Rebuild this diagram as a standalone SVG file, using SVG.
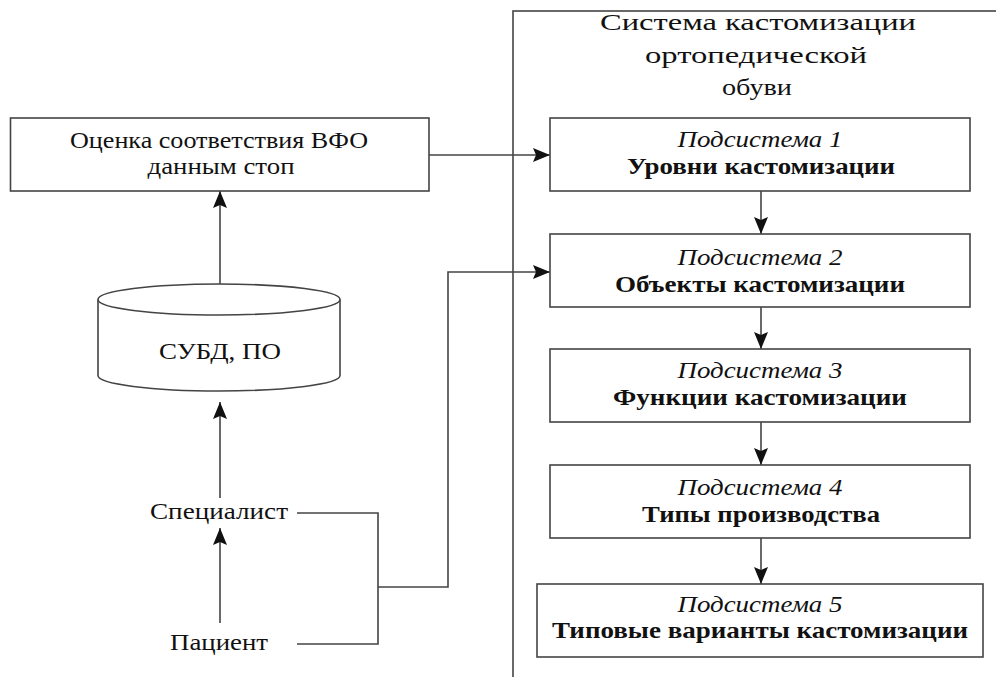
<svg xmlns="http://www.w3.org/2000/svg" width="996" height="677" viewBox="0 0 996 677">
<style>
.box{fill:#fff;stroke:#444;stroke-width:1.6}
.ln{fill:none;stroke:#444;stroke-width:1.6}
text{font-family:"Liberation Serif","Times New Roman",serif;font-size:24px;fill:#111;text-anchor:middle}
.it{font-style:italic}
.b{font-weight:bold}
</style>
<defs>
<marker id="ah" markerUnits="userSpaceOnUse" markerWidth="18" markerHeight="14" viewBox="0 0 18 14" refX="17" refY="7" orient="auto">
<path d="M0,0 L17,7 L0,14 L3,7 Z" fill="#111"/>
</marker>
</defs>
<rect width="996" height="677" fill="#fff"/>
<g id="frame">
<rect class="box" x="513" y="11" width="520" height="700" fill="none"/>
<text x="758" y="30" textLength="316" lengthAdjust="spacingAndGlyphs">Система кастомизации</text>
<text x="756" y="63" textLength="222" lengthAdjust="spacingAndGlyphs">ортопедической</text>
<text x="757" y="95" textLength="70" lengthAdjust="spacingAndGlyphs">обуви</text>
</g>
<g id="connectors">
<line class="ln" x1="429" y1="155" x2="550" y2="155" marker-end="url(#ah)"/>
<line class="ln" x1="220" y1="284" x2="220" y2="191" marker-end="url(#ah)"/>
<line class="ln" x1="220" y1="498" x2="220" y2="402" marker-end="url(#ah)"/>
<line class="ln" x1="220" y1="623" x2="220" y2="528" marker-end="url(#ah)"/>
<polyline class="ln" points="297,513 378,513 378,644 297,644"/>
<polyline class="ln" points="378,587 448,587 448,272 550,272" marker-end="url(#ah)"/>
<line class="ln" x1="761" y1="191" x2="761" y2="234" marker-end="url(#ah)"/>
<line class="ln" x1="761" y1="307" x2="761" y2="349" marker-end="url(#ah)"/>
<line class="ln" x1="761" y1="422" x2="761" y2="465" marker-end="url(#ah)"/>
<line class="ln" x1="761" y1="538" x2="761" y2="584" marker-end="url(#ah)"/>
</g>
<g id="ocenka">
<rect class="box" x="10.5" y="118" width="418.5" height="73"/>
<text x="219" y="148" textLength="298" lengthAdjust="spacingAndGlyphs">Оценка соответствия ВФО</text>
<text x="221" y="174" textLength="147" lengthAdjust="spacingAndGlyphs">данным стоп</text>
</g>
<g id="subd">
<path class="box" d="M98,299.5 L98,375.5 A121,15.5 0 0 0 340,375.5 L340,299.5"/>
<ellipse class="box" cx="219" cy="299.5" rx="121" ry="15.5"/>
<text x="220" y="359" textLength="122" lengthAdjust="spacingAndGlyphs">СУБД, ПО</text>
</g>
<g id="specialist">
<text x="219" y="519" textLength="138" lengthAdjust="spacingAndGlyphs">Специалист</text>
</g>
<g id="pacient">
<text x="219" y="650" textLength="98" lengthAdjust="spacingAndGlyphs">Пациент</text>
</g>
<g id="sub1">
<rect class="box" x="550" y="118" width="420" height="73"/>
<text class="it" x="760" y="147" textLength="165" lengthAdjust="spacingAndGlyphs">Подсистема 1</text>
<text class="b" x="761" y="174" textLength="268" lengthAdjust="spacingAndGlyphs">Уровни кастомизации</text>
</g>
<g id="sub2">
<rect class="box" x="550" y="234" width="420" height="73"/>
<text class="it" x="760" y="265" textLength="165" lengthAdjust="spacingAndGlyphs">Подсистема 2</text>
<text class="b" x="760" y="292" textLength="290" lengthAdjust="spacingAndGlyphs">Объекты кастомизации</text>
</g>
<g id="sub3">
<rect class="box" x="550" y="349" width="420" height="73"/>
<text class="it" x="760" y="378" textLength="165" lengthAdjust="spacingAndGlyphs">Подсистема 3</text>
<text class="b" x="760" y="405" textLength="294" lengthAdjust="spacingAndGlyphs">Функции кастомизации</text>
</g>
<g id="sub4">
<rect class="box" x="550" y="465" width="420" height="73"/>
<text class="it" x="760" y="495" textLength="165" lengthAdjust="spacingAndGlyphs">Подсистема 4</text>
<text class="b" x="761" y="522" textLength="238" lengthAdjust="spacingAndGlyphs">Типы производства</text>
</g>
<g id="sub5">
<rect class="box" x="537" y="584" width="446" height="73"/>
<text class="it" x="760" y="612" textLength="165" lengthAdjust="spacingAndGlyphs">Подсистема 5</text>
<text class="b" x="760" y="638" textLength="416" lengthAdjust="spacingAndGlyphs">Типовые варианты кастомизации</text>
</g>
</svg>
